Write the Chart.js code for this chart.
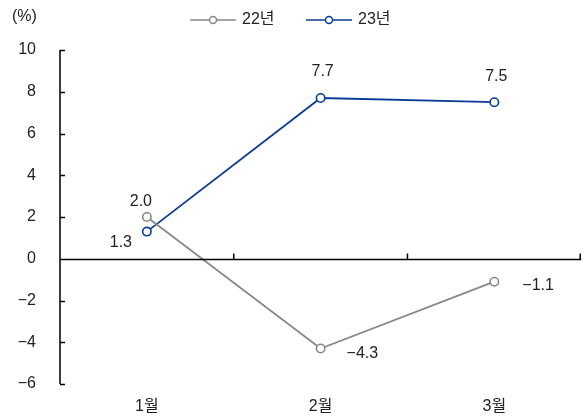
<!DOCTYPE html>
<html>
<head>
<meta charset="utf-8">
<script src="https://cdn.jsdelivr.net/npm/chart.js@4"></script>
<style>
  html, body { margin: 0; padding: 0; background: #fff; }
  #wrap { width: 587px; height: 419px; }
</style>
</head>
<body>
<div id="wrap"><canvas id="lineChart"></canvas></div>
<script>
const months = ['1월', '2월', '3월'];
const y22 = [2.0, -4.3, -1.1];
const y23 = [1.3, 7.7, 7.5];
const seriesNames = ['22년', '23년'];
const yTicks = [10, 8, 6, 4, 2, 0, -2, -4, -6];

const FONT = '"Liberation Sans", "Noto Sans CJK KR", sans-serif';
const GRAY = '#888888';
const NAVY = '#0a3c96';
const TEXT = '#222';

// where each value label sits relative to its point
const labelPos22 = [[-6, -15, 'center'], [26, 5, 'left'], [28, 4, 'left']];
const labelPos23 = [[-26, 11, 'center'], [2, -26, 'center'], [2, -26, 'center']];

const extras = {
    id: 'extras',
    afterDraw(chart) {
        const c = chart.ctx;
        const area = chart.chartArea;
        const ys = chart.scales.y;
        c.save();
        c.strokeStyle = '#000';
        c.lineWidth = 1.5;
        // y axis line + inward ticks
        c.beginPath();
        c.moveTo(area.left, area.top);
        c.lineTo(area.left, area.bottom);
        yTicks.forEach(v => {
            const p = Math.round(ys.getPixelForValue(v)) + 0.5;
            c.moveTo(area.left, p);
            c.lineTo(area.left + 5, p);
        });
        // zero line with upward ticks at category boundaries
        const z = Math.round(ys.getPixelForValue(0)) + 0.5;
        c.moveTo(area.left, z);
        c.lineTo(area.right, z);
        const step = (area.right - area.left) / months.length;
        for (let i = 1; i <= months.length; i++) {
            const px = area.left + step * i - (i === months.length ? 1 : 0);
            c.moveTo(px, z);
            c.lineTo(px, z - 6);
        }
        c.stroke();

        // unit label
        c.fillStyle = TEXT;
        c.font = '16px ' + FONT;
        c.textAlign = 'left';
        c.textBaseline = 'middle';
        c.fillText('(%)', 12, 17);

        // value labels
        const drawLabels = (dsIndex, vals, pos) => {
            const meta = chart.getDatasetMeta(dsIndex);
            meta.data.forEach((pt, i) => {
                c.textAlign = pos[i][2];
                c.fillText(vals[i].toFixed(1).replace('-', '\u2212'), pt.x + pos[i][0], pt.y + pos[i][1]);
            });
        };
        drawLabels(0, y22, labelPos22);
        drawLabels(1, y23, labelPos23);

        // legend
        const legend = [[GRAY, seriesNames[0], 190], [NAVY, seriesNames[1], 306]];
        legend.forEach(([col, name, lx]) => {
            const ly = 20;
            c.strokeStyle = col;
            c.lineWidth = 1.5;
            c.beginPath();
            c.moveTo(lx, ly);
            c.lineTo(lx + 46, ly);
            c.stroke();
            c.fillStyle = '#fff';
            c.beginPath();
            c.arc(lx + 23, ly, 3.5, 0, Math.PI * 2);
            c.fill();
            c.stroke();
            c.fillStyle = TEXT;
            c.textAlign = 'left';
            c.fillText(name, lx + 52, ly);
        });
        c.restore();
    }
};

new Chart(document.getElementById('lineChart'), {
    type: 'line',
    data: {
        labels: months,
        datasets: [
            { label: seriesNames[0], data: y22, borderColor: GRAY, backgroundColor: '#fff',
              borderWidth: 1.8, pointRadius: 4.2, pointBorderWidth: 1.6, pointBackgroundColor: '#fff', pointBorderColor: GRAY },
            { label: seriesNames[1], data: y23, borderColor: NAVY, backgroundColor: '#fff',
              borderWidth: 1.8, pointRadius: 4.2, pointBorderWidth: 1.6, pointBackgroundColor: '#fff', pointBorderColor: NAVY }
        ]
    },
    options: {
        responsive: true,
        maintainAspectRatio: false,
        animation: false,
        layout: { padding: { top: 50, right: 2, left: 0, bottom: 0 } },
        plugins: { legend: { display: false }, tooltip: { enabled: false } },
        scales: {
            x: {
                type: 'category',
                offset: true,
                grid: { display: false },
                border: { display: false },
                ticks: { color: TEXT, font: { family: FONT, size: 16 }, padding: 5 },
                afterFit(scale) { scale.height = 35; }
            },
            y: {
                min: -6,
                max: 10,
                grid: { display: false },
                border: { display: false },
                ticks: {
                    stepSize: 2,
                    color: TEXT,
                    font: { family: FONT, size: 16 },
                    padding: 16,
                    callback: v => String(v).replace('-', '\u2212')
                },
                afterFit(scale) { scale.width = 60; }
            }
        }
    },
    plugins: [extras]
});
</script>
</body>
</html>
